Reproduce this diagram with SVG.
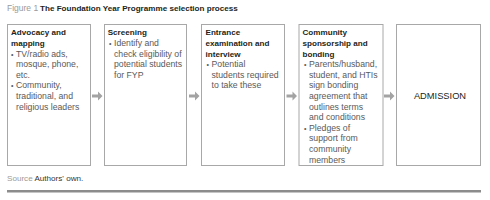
<svg xmlns="http://www.w3.org/2000/svg" width="490" height="200" viewBox="0 0 490 200">
<style>
text{font-family:"Liberation Sans",Arial,sans-serif}
.box{fill:#fff;stroke:#a8a8a8;stroke-width:1}
.h{font-size:8.1px;font-weight:bold;fill:#231f20}
.b{font-size:8.7px;fill:#5a5a5a}
.dot{font-size:7px;fill:#5a5a5a}
.arrow{fill:#a3a3a3}
</style>
<defs>
<path id="arr" d="M0,94.5 H6 V91.5 L10.5,96 L6,100.5 V97.5 H0 Z"/>
</defs>
<rect width="490" height="200" fill="#fff"/>
<text x="7" y="11" font-size="8.5" fill="#9a9a9a">Figure 1</text>
<text x="40" y="11" font-size="8.1" font-weight="bold" fill="#231f20">The Foundation Year Programme selection process</text>

<g id="connectors">
<use href="#arr" class="arrow" x="92"/>
<use href="#arr" class="arrow" x="189"/>
<use href="#arr" class="arrow" x="286.5"/>
<use href="#arr" class="arrow" x="384"/>
</g>

<g id="node1">
<rect class="box" x="7.5" y="24.5" width="83" height="141"/>
<text class="h" x="11" y="35.3">Advocacy and</text>
<text class="h" x="11" y="45.9">mapping</text>
<text class="dot" x="11" y="56.5">•</text>
<text class="b" x="16" y="56.5">TV/radio ads,</text>
<text class="b" x="16" y="67.1">mosque, phone,</text>
<text class="b" x="16" y="77.7">etc.</text>
<text class="dot" x="11" y="88.3">•</text>
<text class="b" x="16" y="88.3">Community,</text>
<text class="b" x="16" y="98.9">traditional, and</text>
<text class="b" x="16" y="109.5">religious leaders</text>
</g>

<g id="node2">
<rect class="box" x="104.5" y="24.5" width="82" height="141"/>
<text class="h" x="107.7" y="35.3">Screening</text>
<text class="dot" x="109" y="45.9">•</text>
<text class="b" x="114" y="45.9">Identify and</text>
<text class="b" x="114" y="56.5">check eligibility of</text>
<text class="b" x="114" y="67.1">potential students</text>
<text class="b" x="114" y="77.7">for FYP</text>
</g>

<g id="node3">
<rect class="box" x="201.5" y="24.5" width="83" height="141"/>
<text class="h" x="205.5" y="35.3">Entrance</text>
<text class="h" x="205.5" y="45.9">examination and</text>
<text class="h" x="205.5" y="56.5">interview</text>
<text class="dot" x="206.5" y="67.1">•</text>
<text class="b" x="211.5" y="67.1">Potential</text>
<text class="b" x="211.5" y="77.7">students required</text>
<text class="b" x="211.5" y="88.3">to take these</text>
</g>

<g id="node4">
<rect class="box" x="299" y="24.5" width="84" height="141"/>
<text class="h" x="302.5" y="35.3">Community</text>
<text class="h" x="302.5" y="45.9">sponsorship and</text>
<text class="h" x="302.5" y="56.5">bonding</text>
<text class="dot" x="304" y="67.1">•</text>
<text class="b" x="309" y="67.1">Parents/husband,</text>
<text class="b" x="309" y="77.7">student, and HTIs</text>
<text class="b" x="309" y="88.3">sign bonding</text>
<text class="b" x="309" y="98.9">agreement that</text>
<text class="b" x="309" y="109.5">outlines terms</text>
<text class="b" x="309" y="120.1">and conditions</text>
<text class="dot" x="304" y="130.7">•</text>
<text class="b" x="309" y="130.7">Pledges of</text>
<text class="b" x="309" y="141.3">support from</text>
<text class="b" x="309" y="151.9">community</text>
<text class="b" x="309" y="162.5">members</text>
</g>

<g id="node5">
<rect class="box" x="396.5" y="24.5" width="84" height="141"/>
<text x="440" y="99" font-size="9.3" fill="#231f20" text-anchor="middle">ADMISSION</text>
</g>

<text x="7" y="181" font-size="8.1" fill="#9a9a9a">Source <tspan fill="#333">Authors' own.</tspan></text>
<rect x="7" y="190" width="474" height="2.5" fill="#8c8c8c"/>
</svg>
